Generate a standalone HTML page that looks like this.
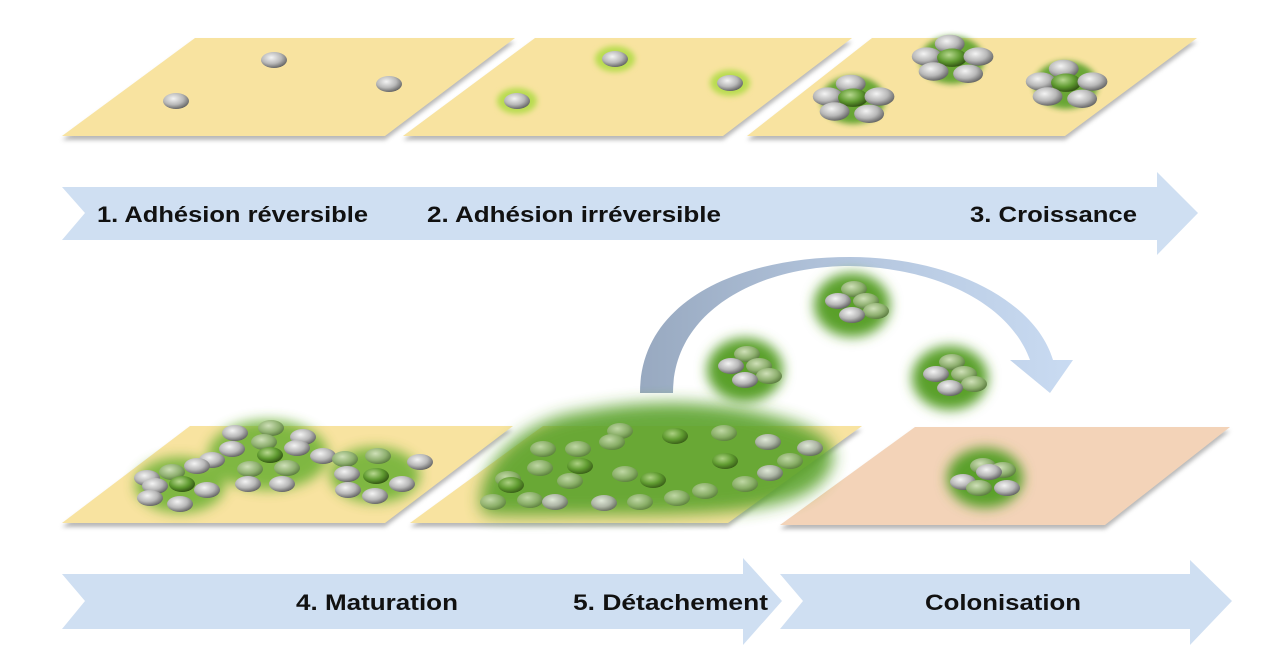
<!DOCTYPE html>
<html><head><meta charset="utf-8"><style>
html,body{margin:0;padding:0;background:#fff;}
svg{display:block;}
text{font-family:"Liberation Sans",sans-serif;font-weight:bold;fill:#111;}
</style></head><body>
<svg width="1280" height="667" viewBox="0 0 1280 667" xmlns="http://www.w3.org/2000/svg">
<defs>
<radialGradient id="gc" cx="0.4" cy="0.35" r="0.7">
<stop offset="0" stop-color="#f4f4f4"/><stop offset="0.55" stop-color="#b8b8b8"/><stop offset="1" stop-color="#5a5a5a"/>
</radialGradient>
<radialGradient id="gg" cx="0.4" cy="0.35" r="0.7">
<stop offset="0" stop-color="#b8d890"/><stop offset="0.55" stop-color="#5f9a30"/><stop offset="1" stop-color="#2c4a10"/>
</radialGradient>
<radialGradient id="gm" cx="0.4" cy="0.35" r="0.7">
<stop offset="0" stop-color="#cfe0b8"/><stop offset="0.6" stop-color="#8fb070"/><stop offset="1" stop-color="#55753a"/>
</radialGradient>
<filter id="b6" x="-50%" y="-50%" width="200%" height="200%"><feGaussianBlur stdDeviation="6"/></filter>
<filter id="b3" x="-50%" y="-50%" width="200%" height="200%"><feGaussianBlur stdDeviation="3"/></filter>
<filter id="b8" x="-30%" y="-30%" width="160%" height="160%"><feGaussianBlur stdDeviation="8"/></filter>
<filter id="sh" x="-10%" y="-10%" width="120%" height="140%"><feGaussianBlur stdDeviation="2"/></filter>
<linearGradient id="arc" x1="0" y1="0" x2="1" y2="0">
<stop offset="0" stop-color="#98a9c0"/><stop offset="0.5" stop-color="#b4c6de"/><stop offset="1" stop-color="#c9dbf2"/>
</linearGradient>
<g id="c"><ellipse rx="13" ry="8" fill="url(#gc)"/></g>
<g id="g"><ellipse rx="13" ry="8" fill="url(#gg)"/></g>
<g id="m"><ellipse rx="13" ry="8" fill="url(#gm)"/></g>
<g id="cl">
<ellipse rx="38" ry="32" fill="#5aa02a" filter="url(#b6)"/>
<use href="#m" x="2" y="-16"/><use href="#c" x="-14" y="-4"/><use href="#m" x="14" y="-4"/><use href="#m" x="24" y="6"/><use href="#c" x="0" y="10"/>
</g>
<g id="cf">
<ellipse rx="32" ry="24" fill="#5aa02a" filter="url(#b3)" opacity="0.9"/>
<g transform="scale(1.15)">
<use href="#c" x="-2" y="-14"/><use href="#c" x="-22" y="-3"/><use href="#g" x="0" y="-2"/><use href="#c" x="23" y="-3"/><use href="#c" x="-16" y="10"/><use href="#c" x="14" y="12"/>
</g>
</g>
</defs>

<g fill="#999" filter="url(#sh)" opacity="0.7">
<polygon points="195,42 515,42 385,140 62,140"/>
<polygon points="535,42 852,42 723,140 403,140"/>
<polygon points="872,42 1197,42 1065,140 747,140"/>
</g>
<polygon points="195,38 515,38 385,136 62,136" fill="#f8e3a0"/>
<polygon points="535,38 852,38 723,136 403,136" fill="#f8e3a0"/>
<polygon points="872,38 1197,38 1065,136 747,136" fill="#f8e3a0"/>

<use href="#c" x="274" y="60"/><use href="#c" x="389" y="84"/><use href="#c" x="176" y="101"/>
<g fill="#b8dc50" filter="url(#b3)"><ellipse cx="615" cy="59" rx="20" ry="13"/><ellipse cx="730" cy="83" rx="20" ry="13"/><ellipse cx="517" cy="101" rx="20" ry="13"/></g>
<use href="#c" x="615" y="59"/><use href="#c" x="730" y="83"/><use href="#c" x="517" y="101"/>
<use href="#cf" x="853" y="100"/><use href="#cf" x="952" y="60"/><use href="#cf" x="1066" y="85"/>

<polygon points="62,187 1157,187 1157,172 1198,213 1157,255 1157,240 62,240 85,213" fill="#cfdff2"/>
<text x="97" y="222" font-size="22" textLength="271" lengthAdjust="spacingAndGlyphs">1. Adhésion réversible</text>
<text x="427" y="222" font-size="22" textLength="294" lengthAdjust="spacingAndGlyphs">2. Adhésion irréversible</text>
<text x="970" y="222" font-size="22" textLength="167" lengthAdjust="spacingAndGlyphs">3. Croissance</text>

<path d="M640,393 C640,300 740,257 850,257 C950,257 1035,300 1053,360 L1073,360 L1050,393 L1010,360 L1030,360 C1010,305 940,268 850,266 C760,266 673,310 673,393 Z" fill="url(#arc)"/>

<g fill="#999" filter="url(#sh)" opacity="0.7">
<polygon points="190,430 513,430 385,527 62,527"/>
<polygon points="543,430 862,430 728,527 410,527"/>
<polygon points="915,431 1230,431 1105,529 780,529"/>
</g>
<polygon points="190,426 513,426 385,523 62,523" fill="#f8e3a0"/>
<polygon points="543,426 862,426 728,523 410,523" fill="#f8e3a0"/>
<polygon points="915,427 1230,427 1105,525 780,525" fill="#f3d3b8"/>

<g fill="#6ab030" filter="url(#b6)" opacity="0.85">
<ellipse cx="180" cy="485" rx="45" ry="28"/><ellipse cx="268" cy="455" rx="60" ry="35"/><ellipse cx="375" cy="475" rx="45" ry="28"/>
</g>
<g>
<use href="#c" x="235" y="433"/><use href="#m" x="271" y="428"/><use href="#c" x="303" y="437"/>
<use href="#c" x="232" y="449"/><use href="#m" x="264" y="442"/><use href="#c" x="297" y="448"/><use href="#c" x="323" y="456"/>
<use href="#g" x="270" y="455"/><use href="#c" x="212" y="460"/><use href="#m" x="250" y="469"/><use href="#m" x="287" y="468"/>
<use href="#c" x="248" y="484"/><use href="#c" x="282" y="484"/>
<use href="#c" x="147" y="478"/><use href="#m" x="172" y="472"/><use href="#c" x="197" y="466"/>
<use href="#c" x="155" y="486"/><use href="#g" x="182" y="484"/><use href="#c" x="207" y="490"/>
<use href="#c" x="150" y="498"/><use href="#c" x="180" y="504"/>
<use href="#m" x="345" y="459"/><use href="#m" x="378" y="456"/><use href="#c" x="420" y="462"/>
<use href="#c" x="347" y="474"/><use href="#g" x="376" y="476"/><use href="#c" x="402" y="484"/>
<use href="#c" x="348" y="490"/><use href="#c" x="375" y="496"/>
</g>

<path d="M482,512 C472,470 520,420 580,412 C650,398 720,400 780,418 C830,432 845,450 825,478 C800,508 740,515 620,515 C540,515 490,518 482,512 Z" fill="#5aa22a" filter="url(#b8)" opacity="0.9"/>
<g opacity="0.85">
<use href="#m" x="620" y="431"/><use href="#g" x="675" y="436"/><use href="#m" x="724" y="433"/>
<use href="#m" x="543" y="449"/><use href="#m" x="578" y="449"/><use href="#m" x="612" y="442"/><use href="#c" x="768" y="442"/><use href="#c" x="810" y="448"/>
<use href="#m" x="540" y="468"/><use href="#g" x="580" y="466"/><use href="#g" x="725" y="461"/><use href="#m" x="790" y="461"/>
<use href="#m" x="508" y="479"/><use href="#g" x="511" y="485"/><use href="#m" x="570" y="481"/><use href="#m" x="625" y="474"/><use href="#g" x="653" y="480"/><use href="#c" x="770" y="473"/>
<use href="#m" x="493" y="502"/><use href="#m" x="530" y="500"/><use href="#c" x="555" y="502"/><use href="#c" x="604" y="503"/><use href="#m" x="640" y="502"/><use href="#m" x="677" y="498"/><use href="#m" x="705" y="491"/><use href="#m" x="745" y="484"/>
</g>

<use href="#cl" x="745" y="370"/><use href="#cl" x="852" y="305"/><use href="#cl" x="950" y="378"/>
<g transform="translate(985,478)">
<ellipse rx="38" ry="30" fill="#5aa02a" filter="url(#b6)"/>
<use href="#m" x="-2" y="-12"/><use href="#m" x="18" y="-8"/><use href="#c" x="-22" y="4"/><use href="#c" x="4" y="-6"/><use href="#m" x="-6" y="10"/><use href="#c" x="22" y="10"/>
</g>

<polygon points="62,574 743,574 743,558 782,601 743,645 743,629 62,629 85,601" fill="#cfdff2"/>
<polygon points="780,574 1190,574 1190,560 1232,601 1190,645 1190,629 780,629 803,601" fill="#cfdff2"/>
<text x="296" y="610" font-size="22" textLength="162" lengthAdjust="spacingAndGlyphs">4. Maturation</text>
<text x="573" y="610" font-size="22" textLength="195" lengthAdjust="spacingAndGlyphs">5. Détachement</text>
<text x="925" y="610" font-size="22" textLength="156" lengthAdjust="spacingAndGlyphs">Colonisation</text>
</svg>
</body></html>
